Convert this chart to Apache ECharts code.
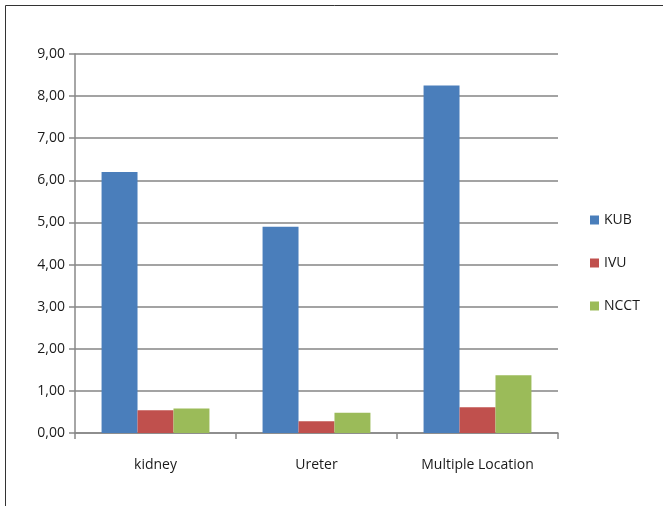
<!DOCTYPE html>
<html>
<head>
<meta charset="utf-8">
<script src="https://cdn.jsdelivr.net/npm/echarts@6/dist/echarts.min.js"></script>
<style>
html, body { margin: 0; padding: 0; background: #fff; }
#main { width: 663px; height: 506px; }
</style>
</head>
<body>
<div id="main"></div>
<script>
var categories = ['kidney', 'Ureter', 'Multiple Location'];
var kub = [6.2, 4.9, 8.25];
var ivu = [0.54, 0.28, 0.61];
var ncct = [0.58, 0.48, 1.37];

var myChart = echarts.init(document.getElementById('main'));

var font = 'Open Sans';

var option = {
    backgroundColor: '#fff',
    animation: false,
    graphic: [
        {
            type: 'rect',
            shape: {x: 5.5, y: 5.5, width: 680, height: 520},
            style: {fill: 'none', stroke: '#333', lineWidth: 1}
        }
    ],
    grid: {left: 75, right: 105, top: 54, bottom: 73},
    legend: {
        orient: 'vertical',
        left: 585,
        top: 208,
        itemWidth: 9,
        itemHeight: 9,
        itemGap: 29,
        icon: 'rect',
        textStyle: {fontFamily: font, fontSize: 14, color: '#1a1a1a'},
        data: ['KUB', 'IVU', 'NCCT']
    },
    xAxis: {
        type: 'category',
        data: categories,
        axisLine: {lineStyle: {color: '#888', width: 1.5}},
        axisTick: {show: true, length: 6, lineStyle: {color: '#888', width: 1.5}},
        axisLabel: {fontFamily: font, fontSize: 14, color: '#1a1a1a', margin: 25}
    },
    yAxis: {
        type: 'value',
        min: 0,
        max: 9,
        interval: 1,
        axisLine: {show: true, lineStyle: {color: '#888', width: 1.5}},
        axisTick: {show: true, length: 6, lineStyle: {color: '#888', width: 1.5}},
        splitLine: {lineStyle: {color: '#848484', width: 1.5}},
        axisLabel: {
            fontFamily: font, fontSize: 14, color: '#1a1a1a', margin: 10,
            formatter: function (v) { return v.toFixed(2).replace('.', ','); }
        }
    },
    series: [
        {name: 'KUB', type: 'bar', data: kub, itemStyle: {color: '#4a7ebb'}, barGap: '0%', barCategoryGap: '33%'},
        {name: 'IVU', type: 'bar', data: ivu, itemStyle: {color: '#c0504d'}},
        {name: 'NCCT', type: 'bar', data: ncct, itemStyle: {color: '#9bbb59'}}
    ]
};
myChart.setOption(option);
</script>
</body>
</html>
